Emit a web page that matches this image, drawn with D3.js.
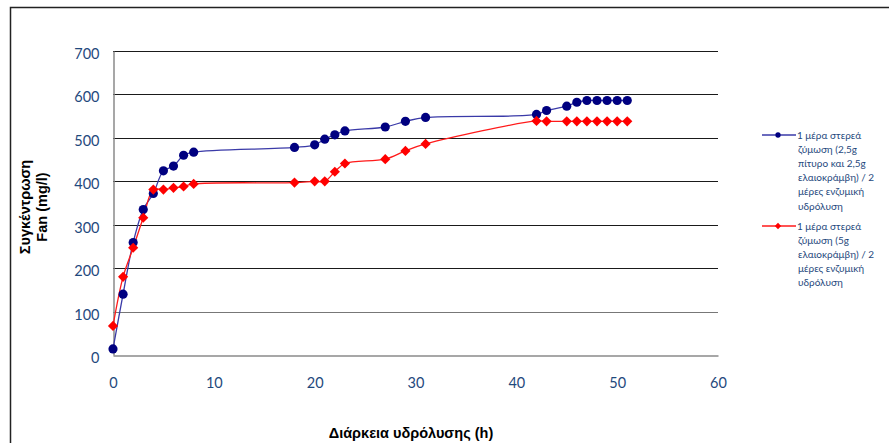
<!DOCTYPE html>
<html>
<head>
<meta charset="utf-8">
<script src="https://cdn.jsdelivr.net/npm/d3@7/dist/d3.min.js"></script>
<style>
  html, body { margin: 0; padding: 0; background: #fff; }
  svg { display: block; }
</style>
</head>
<body>
<svg id="chart" width="889" height="443"></svg>
<script>
// Hydrolysis time (h)
const hours = [0, 1, 2, 3, 4, 5, 6, 7, 8, 18, 20, 21, 22, 23, 27, 29, 31, 42, 43, 45, 46, 47, 48, 49, 50, 51];
// Fan concentration (mg/l), bran + rapeseed cake
const branRapeseed = [14, 140, 259, 335, 372, 424, 435, 460, 467, 478, 484, 497, 507, 516, 525, 538, 547, 554, 563, 573, 582, 586, 586, 586, 586, 586];
// Fan concentration (mg/l), rapeseed cake only
const rapeseedOnly = [67, 180, 247, 316, 381, 381, 385, 388, 394, 397, 400, 400, 422, 441, 451, 470, 486, 539, 538, 538, 538, 538, 538, 538, 538, 538];

const seriesNames = [
  ["1 μέρα στερεά", "ζύμωση (2,5g", "πίτυρο και 2,5g", "ελαιοκράμβη)  / 2", "μέρες ενζυμική", "υδρόλυση"],
  ["1 μέρα στερεά", "ζύμωση (5g", "ελαιοκράμβη) / 2", "μέρες ενζυμική", "υδρόλυση"]
];
const xTicks = [0, 10, 20, 30, 40, 50, 60];
const yTicks = [0, 100, 200, 300, 400, 500, 600, 700];
const xTitle = "Διάρκεια υδρόλυσης (h)";
const yTitle = ["Συγκέντρωση", "Fan (mg/l)"];

const svg = d3.select("#chart");
const tickFont = "Lato, 'Open Sans', sans-serif";
const titleFont = "'Liberation Sans', Arial, sans-serif";
const tickColor = "#1f497d";

// Outer frame (top and left edges)
svg.append("path")
  .attr("d", "M10.5,443 V7.5 H889")
  .attr("fill", "none").attr("stroke", "#222").attr("stroke-width", 1.5);

const x = d3.scaleLinear().domain([0, 60]).range([113, 718]);
const y = d3.scaleLinear().domain([0, 700]).range([355, 51]);

// Horizontal gridlines
svg.append("g").selectAll("line")
  .data(yTicks.filter(d => d > 0))
  .join("line")
  .attr("x1", x(0)).attr("x2", x(60))
  .attr("y1", d => Math.round(y(d)) + 0.5).attr("y2", d => Math.round(y(d)) + 0.5)
  .attr("stroke", d => d === 100 ? "#777" : "#1a1a1a").attr("stroke-width", 1.2);

// Axes
const xAxis = svg.append("g")
  .attr("transform", `translate(0,${Math.round(y(0)) + 0.5})`)
  .call(d3.axisBottom(x).tickValues(xTicks).tickSize(0).tickPadding(22));
xAxis.select(".domain").attr("stroke", "#8a8a8a").attr("stroke-width", 1.5);
xAxis.selectAll("text")
  .attr("font-family", tickFont).attr("font-size", 14.5).attr("fill", tickColor);

const yAxis = svg.append("g")
  .attr("transform", `translate(${Math.round(x(0)) + 0.5},0)`)
  .call(d3.axisLeft(y).tickValues(yTicks).tickSize(0).tickPadding(14));
yAxis.select(".domain").attr("stroke", "#8a8a8a").attr("stroke-width", 1.5);
yAxis.selectAll("text")
  .attr("font-family", tickFont).attr("font-size", 14.5).attr("fill", tickColor)
  .attr("dy", "0.52em");

// Axis titles
svg.append("text")
  .attr("x", 411).attr("y", 438)
  .attr("text-anchor", "middle")
  .attr("font-family", titleFont).attr("font-weight", "bold").attr("font-size", 14.5)
  .attr("fill", "#000")
  .text(xTitle);

const yt = svg.append("text")
  .attr("transform", "translate(30,207) rotate(-90)")
  .attr("text-anchor", "middle")
  .attr("font-family", titleFont).attr("font-weight", "bold").attr("font-size", 14.5)
  .attr("fill", "#000");
yt.append("tspan").attr("x", 0).attr("y", 0).text(yTitle[0]);
yt.append("tspan").attr("x", 0).attr("y", 17).text(yTitle[1]);

// Series (diamonds are squares turned 45°)
const series = [
  { values: branRapeseed, line: "#3a3aa8", fill: "#000080", shape: d3.symbolCircle, size: 66, rot: 0, legendSize: 22, legendY: 135 },
  { values: rapeseedOnly, line: "#ff1a1a", fill: "#ff0000", shape: d3.symbolSquare, size: 52, rot: 45, legendSize: 20, legendY: 226 }
];

const line = d3.line()
  .x((d, i) => x(hours[i]))
  .y(d => y(d))
  .curve(d3.curveCatmullRom.alpha(0.5));

series.forEach(s => {
  svg.append("path")
    .datum(s.values)
    .attr("d", line)
    .attr("fill", "none").attr("stroke", s.line).attr("stroke-width", 1.3);
});

series.forEach(s => {
  svg.append("g").selectAll("path")
    .data(s.values)
    .join("path")
    .attr("transform", (d, i) => `translate(${x(hours[i])},${y(d)}) rotate(${s.rot})`)
    .attr("d", d3.symbol().type(s.shape).size(s.size))
    .attr("fill", s.fill);
});

// Legend
series.forEach((s, k) => {
  const g = svg.append("g");
  g.append("line")
    .attr("x1", 762).attr("x2", 796)
    .attr("y1", s.legendY).attr("y2", s.legendY)
    .attr("stroke", s.line).attr("stroke-width", 1.3);
  g.append("path")
    .attr("transform", `translate(778,${s.legendY}) rotate(${s.rot})`)
    .attr("d", d3.symbol().type(s.shape).size(s.legendSize))
    .attr("fill", s.fill);
  const t = g.append("text")
    .attr("font-family", tickFont).attr("font-size", 10)
    .attr("fill", tickColor);
  seriesNames[k].forEach((ln, j) => {
    t.append("tspan")
      .attr("x", j === 0 ? 797 : 798)
      .attr("y", s.legendY + 3.5 + j * 14.2)
      .text(ln);
  });
});
</script>
</body>
</html>
